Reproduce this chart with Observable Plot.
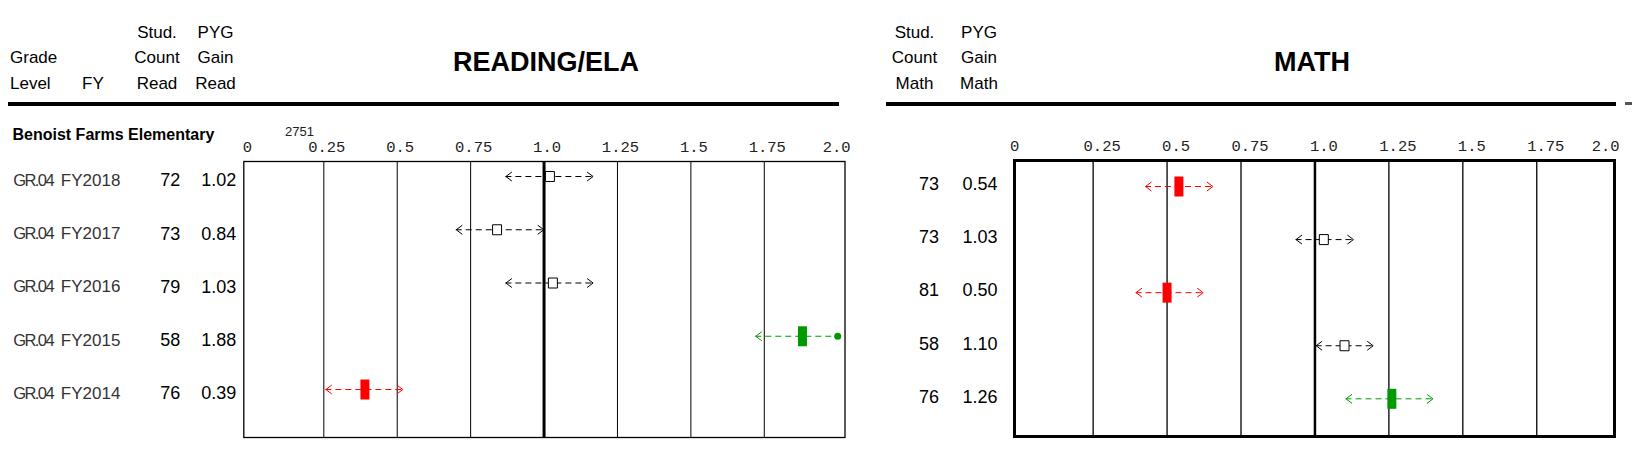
<!DOCTYPE html>
<html><head><meta charset="utf-8">
<script src="https://cdn.jsdelivr.net/npm/d3@7"></script>
<script src="https://cdn.jsdelivr.net/npm/@observablehq/plot@0.6"></script>
<style>
html,body{margin:0;padding:0;background:#fff;}
#root{position:relative;width:1632px;height:472px;overflow:hidden;font-family:"Liberation Sans",Arial,sans-serif;color:#000;}
.lbl{position:absolute;white-space:nowrap;}
.hr{position:absolute;background:#000;}
#root svg{position:absolute;top:0;overflow:visible;}
</style></head><body><div id="root"></div>
<script>
// ---------- data ----------
const schoolName = "Benoist Farms Elementary";
const stateCount = "2751";
const grades = ["GR.04", "GR.04", "GR.04", "GR.04", "GR.04"];
const years = ["FY2018", "FY2017", "FY2016", "FY2015", "FY2014"];

const readCount = [72, 73, 79, 58, 76];
const readGain = [1.02, 0.84, 1.03, 1.88, 0.39];
const readLow = [0.870, 0.701, 0.870, 1.721, 0.257];
const readHigh = [1.167, 0.999, 1.167, 2.0, 0.519];
const readStatus = ["typical", "typical", "typical", "above", "below"];
const readCapped = [false, false, false, true, false];

const mathCount = [73, 73, 81, 58, 76];
const mathGain = [0.54, 1.03, 0.50, 1.10, 1.26];
const mathLow = [0.427, 0.936, 0.395, 1.004, 1.105];
const mathHigh = [0.655, 1.130, 0.622, 1.197, 1.399];
const mathStatus = ["below", "typical", "below", "typical", "above"];
const mathCapped = [false, false, false, false, false];

const tickValues = [0, 0.25, 0.5, 0.75, 1.0, 1.25, 1.5, 1.75, 2.0];
const tickLabels = ["0", "0.25", "0.5", "0.75", "1.0", "1.25", "1.5", "1.75", "2.0"];

// ---------- helpers ----------
const root = document.getElementById("root");
const SANS = "'Liberation Sans', Arial, sans-serif";
const MONO = "'Liberation Mono', 'Courier New', monospace";

function label(text, x, yc, {anchor = "start", size = 17, weight = "normal", color = "#000", family = SANS} = {}) {
  const d = document.createElement("div");
  d.className = "lbl";
  d.textContent = text;
  const lh = Math.round(size * 1.2);
  d.style.cssText += `left:${x}px;top:${yc - lh / 2}px;font-size:${size}px;line-height:${lh}px;font-weight:${weight};color:${color};font-family:${family};`;
  if (anchor === "middle") d.style.transform = "translateX(-50%)";
  if (anchor === "end") d.style.transform = "translateX(-100%)";
  root.appendChild(d);
}
function hr(x1, x2, y, h, color = "#000") {
  const d = document.createElement("div");
  d.className = "hr";
  d.style.cssText += `left:${x1}px;top:${y}px;width:${x2 - x1}px;height:${h}px;background:${color};`;
  root.appendChild(d);
}

const colorOf = s => s === "above" ? "#009900" : s === "below" ? "#ff0000" : "#000000";
const chevLeft = {draw(c) { c.moveTo(6, -4.5); c.lineTo(0, 0); c.lineTo(6, 4.5); }};
const chevRight = {draw(c) { c.moveTo(-6, -4.5); c.lineTo(0, 0); c.lineTo(-6, 4.5); }};
const hollowBox = {draw(c) { c.rect(-4.5, -5, 9, 10); }};
const solidBar = {draw(c) { c.rect(-4.5, -10, 9, 20); }};

function rowsOf(count, gain, low, high, status, capped) {
  return gain.map((g, i) => ({
    row: i, grade: grades[i], year: years[i], count: count[i], gain: g,
    low: low[i], high: high[i], status: status[i], capped: capped[i], color: colorOf(status[i])
  }));
}
const ticks = tickValues.map((v, i) => ({v, label: tickLabels[i]}));

function intervalMarks(rows) {
  return [
    Plot.ruleY(rows, {y: "row", x1: "low", x2: "high", stroke: "color", strokeWidth: 1, strokeDasharray: "6,4"}),
    Plot.dot(rows, {x: "low", y: "row", symbol: chevLeft, r: 4, fill: "none", stroke: "color", strokeWidth: 1}),
    Plot.dot(rows.filter(d => !d.capped), {x: "high", y: "row", symbol: chevRight, r: 4, fill: "none", stroke: "color", strokeWidth: 1}),
    Plot.dot(rows.filter(d => d.capped), {x: "high", y: "row", r: 3.5, fill: "color", stroke: "none"}),
    Plot.dot(rows.filter(d => d.status === "typical"), {x: "gain", y: "row", symbol: hollowBox, r: 4, fill: "white", stroke: "black", strokeWidth: 1}),
    Plot.dot(rows.filter(d => d.status !== "typical"), {x: "gain", y: "row", symbol: solidBar, r: 4, fill: "color", stroke: "none"})
  ];
}
function tickMarks(firstDx, midDx, lastDx) {
  const common = {x: "v", text: "label", frameAnchor: "top", dy: -21, fontFamily: MONO, fontSize: 15.5, fill: "#222"};
  return [
    Plot.text(ticks.slice(0, 1), {...common, dx: firstDx}),
    Plot.text(ticks.slice(1, -1), {...common, dx: midDx}),
    Plot.text(ticks.slice(-1), {...common, dx: lastDx})
  ];
}

// ---------- header (HTML text) ----------
label("Stud.", 157, 32.5, {anchor: "middle"});
label("PYG", 215.5, 32.5, {anchor: "middle"});
label("Grade", 10, 57.5);
label("Count", 157, 57.5, {anchor: "middle"});
label("Gain", 215.5, 57.5, {anchor: "middle"});
label("Level", 10, 84);
label("FY", 82, 84);
label("Read", 157, 84, {anchor: "middle"});
label("Read", 215.5, 84, {anchor: "middle"});
label("READING/ELA", 546, 62, {anchor: "middle", size: 27, weight: "bold"});

label("Stud.", 914.5, 32.5, {anchor: "middle"});
label("PYG", 979, 32.5, {anchor: "middle"});
label("Count", 914.5, 57.5, {anchor: "middle"});
label("Gain", 979, 57.5, {anchor: "middle"});
label("Math", 914.5, 84, {anchor: "middle"});
label("Math", 979, 84, {anchor: "middle"});
label("MATH", 1312, 62, {anchor: "middle", size: 27, weight: "bold"});

hr(8, 839, 102, 4);
hr(886, 1616, 102, 4);
hr(1625, 1632, 102, 3, "#555");

label(schoolName, 12.5, 134, {size: 16, weight: "bold"});
label(stateCount, 285, 132, {size: 13, color: "#222"});

// ---------- reading panel ----------
const readRows = rowsOf(readCount, readGain, readLow, readHigh, readStatus, readCapped);
const readPlot = Plot.plot({
  width: 850, height: 472,
  marginLeft: 243.3, marginRight: 5.5, marginTop: 161, marginBottom: 35,
  style: {fontFamily: SANS, fontSize: "17px", background: "transparent", overflow: "visible"},
  x: {domain: [0, 2], insetLeft: 6.6, insetRight: 7.3, axis: null},
  y: {domain: [-0.2817, 4.901], reverse: true, axis: null},
  color: {type: "identity"},
  marks: [
    Plot.ruleX(tickValues.slice(1, -1), {x: d => d, stroke: "black", strokeWidth: d => d === 1 ? 3 : 1}),
    Plot.frame({stroke: "black", strokeWidth: 1.3}),
    ...tickMarks(-3, 3, -1),
    ...intervalMarks(readRows),
    Plot.text(readRows, {y: "row", text: "grade", frameAnchor: "left", dx: -230.5, dy: 4, textAnchor: "start", fontSize: 16.5, fill: "#333"}),
    Plot.text(readRows, {y: "row", text: "year", frameAnchor: "left", dx: -183, dy: 4, textAnchor: "start", fontSize: 17, fill: "#333"}),
    Plot.text(readRows, {y: "row", text: d => String(d.count), frameAnchor: "left", dx: -83.5, dy: 4, fontSize: 18, fill: "#000"}),
    Plot.text(readRows, {y: "row", text: d => d3.format(".2f")(d.gain), frameAnchor: "left", dx: -7.5, dy: 4, textAnchor: "end", fontSize: 18, fill: "#000"})
  ]
});
readPlot.style.left = "0px";
// tighten the "GR.04" labels as in the original
d3.select(readPlot).selectAll("text").filter(function () { return grades.includes(this.textContent); })
  .attr("letter-spacing", "-1.6");
root.appendChild(readPlot);

// ---------- math panel ----------
const mathRows = rowsOf(mathCount, mathGain, mathLow, mathHigh, mathStatus, mathCapped);
const mathPlot = Plot.plot({
  width: 782, height: 472,
  marginLeft: 164, marginRight: 18, marginTop: 160, marginBottom: 36,
  style: {fontFamily: SANS, fontSize: "17px", background: "transparent", overflow: "visible"},
  x: {domain: [0, 2], insetLeft: 4.7, insetRight: 3.8, axis: null},
  y: {domain: [-0.49, 4.71], reverse: true, axis: null},
  color: {type: "identity"},
  marks: [
    Plot.ruleX(tickValues.slice(1, -1), {x: d => d, stroke: "black", strokeWidth: d => d === 1 ? 2.5 : 1.3}),
    Plot.frame({stroke: "black", strokeWidth: 3}),
    ...tickMarks(-4.5, 9, -5),
    ...intervalMarks(mathRows),
    Plot.text(mathRows, {y: "row", text: d => String(d.count), frameAnchor: "left", dx: -95.5, dy: -2, fontSize: 18, fill: "#000"}),
    Plot.text(mathRows, {y: "row", text: d => d3.format(".2f")(d.gain), frameAnchor: "left", dx: -17, dy: -2, textAnchor: "end", fontSize: 18, fill: "#000"})
  ]
});
mathPlot.style.left = "850px";
root.appendChild(mathPlot);
</script>
</body></html>
